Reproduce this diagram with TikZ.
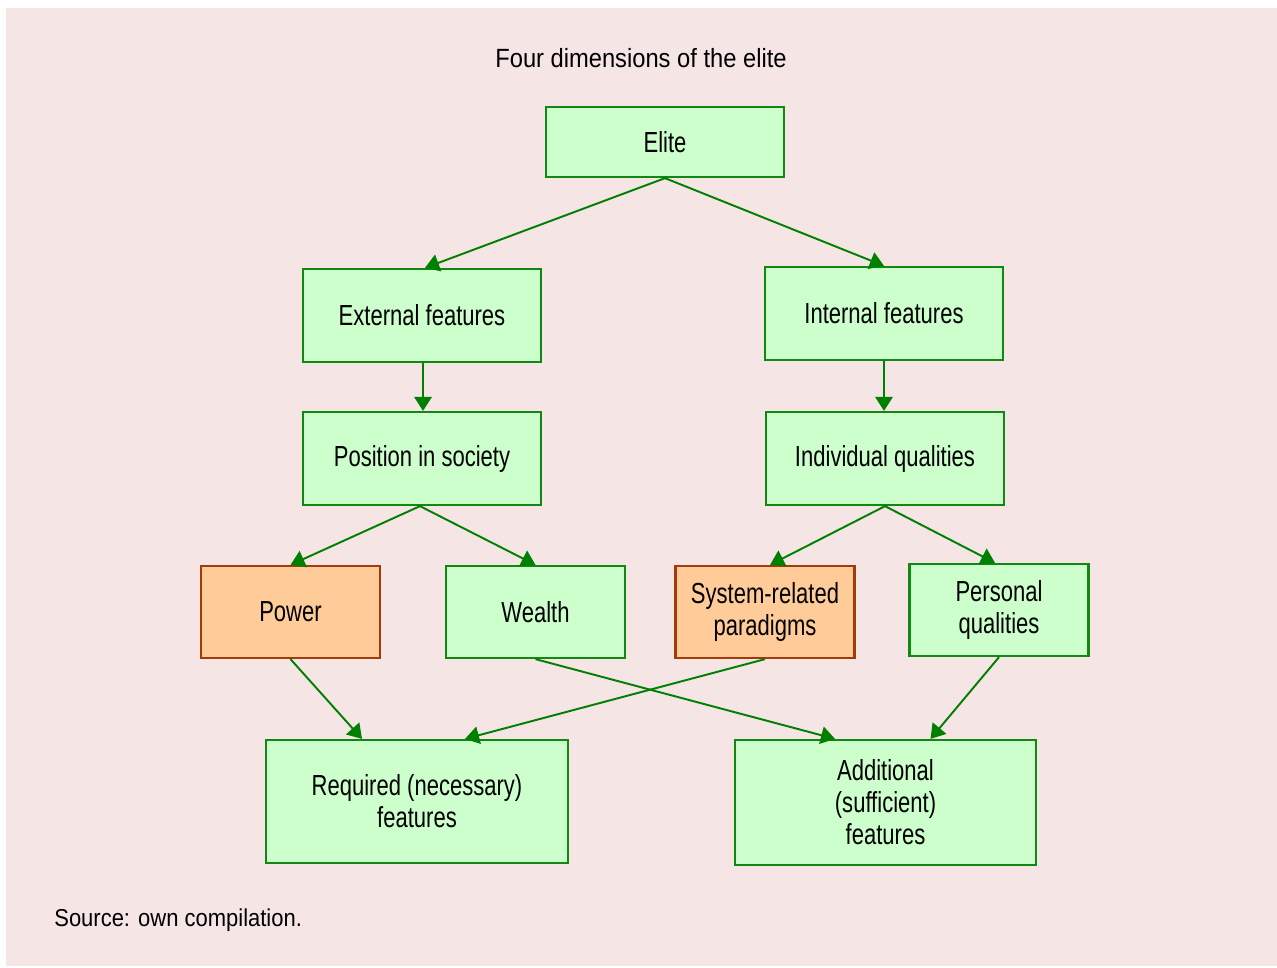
\documentclass[tikz,border=0pt]{standalone}
\usepackage{fontspec}
\setmainfont{Liberation Sans}[FakeStretch=0.76]
\newfontfamily\plainsans{Liberation Sans}[FakeStretch=0.9]
\usepackage{tikz}
\usepackage{xcolor}
\usetikzlibrary{arrows.meta, positioning}
\definecolor{bgpink}{HTML}{F5E5E5}
\definecolor{boxgreen}{HTML}{CCFFCC}
\definecolor{edgegreen}{HTML}{118811}
\definecolor{arrowgreen}{HTML}{008000}
\definecolor{boxorange}{HTML}{FFCC99}
\definecolor{edgeorange}{HTML}{A33A0A}

\begin{document}
\begin{tikzpicture}[x=0.02cm, y=-0.02cm,
  every node/.style={font=\fontsize{16.5}{18.2}\selectfont, text=black},
  greenbox/.style={draw=edgegreen, fill=boxgreen, line width=1.3pt, align=center, inner sep=0pt},
  orangebox/.style={draw=edgeorange, fill=boxorange, line width=1.3pt, align=center, inner sep=0pt},
  link/.style={draw=arrowgreen, line width=1.1pt, -{Triangle[length=8pt, width=10pt]}}]
  \useasboundingbox (0,0) rectangle (1277,967);
  \fill[bgpink] (6,8) rectangle (1277,966);
  % title
  \node[font=\plainsans\fontsize{15}{18}\selectfont] (title) at (641,58) {Four dimensions of the elite};
  % top level
  \node[greenbox, minimum width=4.76cm, minimum height=1.4cm] (elite) at (665,142) {Elite};
  \node[greenbox, minimum width=4.76cm, minimum height=1.86cm] (ext) at (422,315.5) {External features};
  \node[greenbox, minimum width=4.76cm, minimum height=1.86cm] (int) at (884,313.5) {Internal features};
  \node[greenbox, minimum width=4.76cm, minimum height=1.86cm] (pos) at (422,458.5) {Position in society};
  \node[greenbox, minimum width=4.76cm, minimum height=1.86cm] (ind) at (885,458.5) {Individual qualities};
  % four dimensions
  \node[orangebox, minimum width=3.58cm, minimum height=1.84cm] (power) at (290.5,612) {Power};
  \node[greenbox, minimum width=3.58cm, minimum height=1.84cm] (wealth) at (535.5,612) {Wealth};
  \node[orangebox, minimum width=3.58cm, minimum height=1.84cm] (sys) at (765,612) {System-related\\paradigms};
  \node[greenbox, minimum width=3.58cm, minimum height=1.84cm] (pers) at (999,610) {Personal\\qualities};
  % bottom level
  \node[greenbox, minimum width=6.04cm, minimum height=2.46cm] (req) at (417,801.5) {Required (necessary)\\features};
  \node[greenbox, minimum width=6.02cm, minimum height=2.5cm] (add) at (885.5,802.5) {Additional\\(sufficient)\\features};
  % source
  \node[anchor=west, inner sep=0pt, font=\plainsans\fontsize{13.9}{16}\selectfont] (src) at (54,920) {Source: own compilation.};
  % connectors
  \draw[link] (elite.south) -- ([xshift=0.06cm]ext.north);
  \draw[link] (elite.south) -- (int.north);
  \draw[link] ([xshift=0.02cm]ext.south) -- ([xshift=0.02cm]pos.north);
  \draw[link] (int.south) -- ([xshift=-0.02cm]ind.north);
  \draw[link] ([xshift=-0.04cm]pos.south) -- (power.north);
  \draw[link] ([xshift=-0.04cm]pos.south) -- (wealth.north);
  \draw[link] (ind.south) -- ([xshift=0.1cm]sys.north);
  \draw[link] (ind.south) -- ([xshift=-0.08cm]pers.north);
  \draw[link] (power.south) -- ([xshift=-1.1cm]req.north);
  \draw[link] (sys.south) -- ([xshift=0.96cm]req.north);
  \draw[link] (wealth.south) -- ([xshift=-1.01cm]add.north);
  \draw[link] (pers.south) -- ([xshift=0.9cm]add.north);
\end{tikzpicture}
\end{document}
